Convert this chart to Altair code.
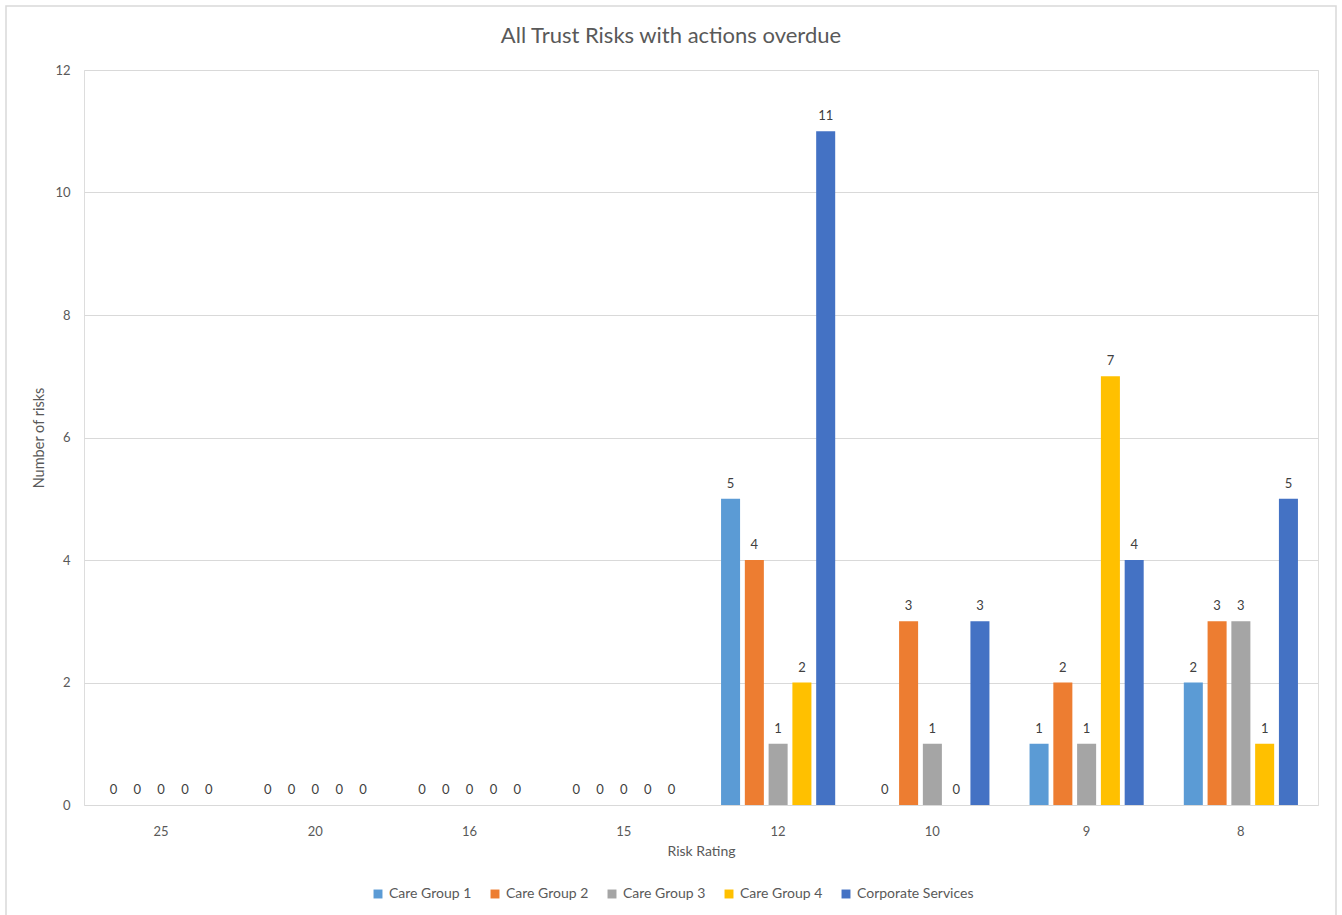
import altair as alt
import pandas as pd

ratings = ["25", "20", "16", "15", "12", "10", "9", "8"]
series = ["Care Group 1", "Care Group 2", "Care Group 3", "Care Group 4", "Corporate Services"]
colors = ["#5B9BD5", "#ED7D31", "#A5A5A5", "#FFC000", "#4472C4"]
cg1 = [0, 0, 0, 0, 5, 0, 1, 2]
cg2 = [0, 0, 0, 0, 4, 3, 2, 3]
cg3 = [0, 0, 0, 0, 1, 1, 1, 3]
cg4 = [0, 0, 0, 0, 2, 0, 7, 1]
corp = [0, 0, 0, 0, 11, 3, 4, 5]
title_text = "All Trust Risks with actions overdue"

rows = []
for s, vals in zip(series, [cg1, cg2, cg3, cg4, corp]):
    for r, v in zip(ratings, vals):
        rows.append({"Risk Rating": r, "Series": s, "Value": v})
df = pd.DataFrame(rows)

FONT = "Lato"
GREY = "#595959"

x = alt.X("Risk Rating:N", sort=ratings,
          scale=alt.Scale(paddingInner=0.26, paddingOuter=0.13),
          axis=alt.Axis(title="Risk Rating", labelAngle=0, ticks=False, domain=False,
                        labelPadding=20, titlePadding=6, labelFontSize=13,
                        titleFontSize=14, labelColor=GREY, titleColor=GREY,
                        labelFont=FONT, titleFont=FONT, titleFontWeight="normal"))
xo = alt.XOffset("Series:N", sort=series, scale=alt.Scale(paddingInner=0.2))
y = alt.Y("Value:Q", scale=alt.Scale(domain=[0, 12]),
          axis=alt.Axis(title="Number of risks", values=[0, 2, 4, 6, 8, 10, 12],
                        ticks=False, domain=False, labelPadding=14,
                        gridColor="#D9D9D9", labelFontSize=13, titleFontSize=14.5,
                        labelColor=GREY, titleColor=GREY, labelFont=FONT,
                        titleFont=FONT, titleFontWeight="normal", titlePadding=8))
color = alt.Color("Series:N", sort=series,
                  scale=alt.Scale(domain=series, range=colors),
                  legend=alt.Legend(title=None, orient="none", direction="horizontal",
                                    legendX=287, legendY=817, symbolType="square",
                                    symbolSize=80, symbolStrokeWidth=0,
                                    labelFontSize=14, labelColor=GREY, labelFont=FONT,
                                    columnPadding=16, symbolOffset=0, labelOffset=4))

base1 = alt.Chart(pd.DataFrame({"t": [title_text]}))

border = base1.mark_rect(
    fill=None, stroke="#D9D9D9", strokeWidth=1.5
).encode(x=alt.value(-78), x2=alt.value(1252), y=alt.value(-64), y2=alt.value(850))

title = base1.mark_text(fontSize=22, color=GREY, font=FONT, baseline="middle",
                        align="center").encode(
    x=alt.value(587), y=alt.value(-34), text="t:N")

bars = alt.Chart(df).mark_bar().encode(
    x=x, xOffset=xo, y=y, color=color)

labels = alt.Chart(df).mark_text(baseline="bottom", dy=-8, fontSize=13,
                                 color="#404040", font=FONT).encode(
    x=x, xOffset=xo, y=y, text="Value:Q")

chart = alt.layer(border, title, bars, labels).properties(
    width=1234, height=735,
    autosize=alt.AutoSizeParams(type="none"),
    padding={"left": 84, "top": 70, "right": 24, "bottom": 110},
).configure_view(stroke=None).configure(background="white")

chart.save("out.html", embed_options={"renderer": "svg", "actions": False})
